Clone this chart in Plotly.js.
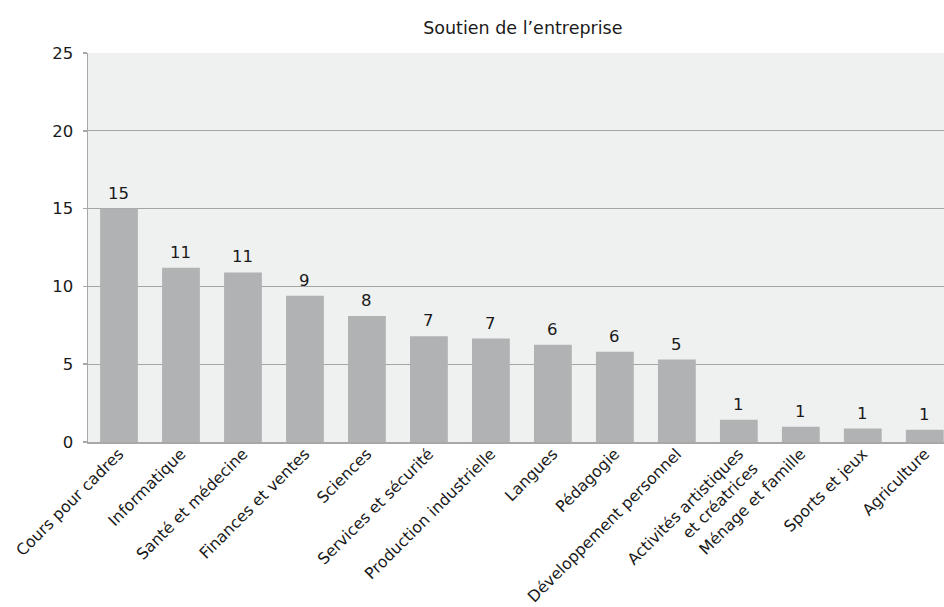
<!DOCTYPE html>
<html>
<head>
<meta charset="utf-8">
<script src="https://cdn.plot.ly/plotly-3.0.1.min.js"></script>
<style>html,body{margin:0;padding:0;background:#fff;}#chart{width:944px;height:607px;}</style>
</head>
<body>
<div id="chart"></div>
<script>
const categories = [
  "Cours pour cadres", "Informatique", "Santé et médecine", "Finances et ventes",
  "Sciences", "Services et sécurité", "Production industrielle", "Langues",
  "Pédagogie", "Développement personnel", "Activités artistiques<br>et créatrices",
  "Ménage et famille", "Sports et jeux", "Agriculture"
];
const values = [15.0, 11.2, 10.9, 9.4, 8.1, 6.8, 6.65, 6.25, 5.8, 5.3, 1.43, 0.98, 0.86, 0.79];
const valueLabels = ["15", "11", "11", "9", "8", "7", "7", "6", "6", "5", "1", "1", "1", "1"];
const yTicks = [0, 5, 10, 15, 20, 25];
const chartTitle = "Soutien de l’entreprise";

const FONT = "DejaVu Sans, sans-serif";

const annotations = categories.map((c, i) => ({
  x: c, y: values[i], xref: "x", yref: "y",
  text: valueLabels[i], showarrow: false,
  yanchor: "bottom", yshift: 4,
  font: {family: FONT, size: 16.5, color: "#1a1a1a"}
}));

const data = [{
  type: "bar",
  x: categories,
  y: values,
  width: 0.61,
  marker: {color: "#b1b2b3", line: {width: 0}},
  hoverinfo: "skip"
}];

const layout = {
  width: 944, height: 607,
  margin: {l: 88, r: 0, t: 53, b: 165, pad: 0},
  paper_bgcolor: "#ffffff",
  plot_bgcolor: "#eff0f0",
  showlegend: false,
  font: {family: FONT, size: 16.5, color: "#1a1a1a"},
  title: {
    text: chartTitle,
    x: 0.508, xref: "paper", xanchor: "center",
    y: 0.954, yref: "container", yanchor: "middle",
    font: {family: FONT, size: 17.5, color: "#1a1a1a"}
  },
  xaxis: {
    type: "category",
    range: [-0.5, 13.31],
    tickangle: -45,
    ticks: "",
    showgrid: false,
    showline: true, linecolor: "#a8a8a8", linewidth: 1.5,
    tickfont: {family: FONT, size: 15.8, color: "#1a1a1a"},
    ticklabelstandoff: -5,
    fixedrange: true
  },
  yaxis: {
    range: [0, 25],
    tickvals: yTicks,
    ticktext: yTicks.map(String),
    ticks: "outside", ticklen: 4, tickcolor: "#a8a8a8", tickwidth: 1.5,
    showgrid: true, gridcolor: "#a5a5a5", gridwidth: 1.3,
    zeroline: false,
    showline: true, linecolor: "#a8a8a8", linewidth: 1.5,
    tickfont: {family: FONT, size: 16.5, color: "#1a1a1a"},
    ticklabelstandoff: 6,
    fixedrange: true
  },
  annotations: annotations,
  bargap: 0.39
};

Plotly.newPlot("chart", data, layout, {displayModeBar: false, staticPlot: true});
</script>
</body>
</html>
